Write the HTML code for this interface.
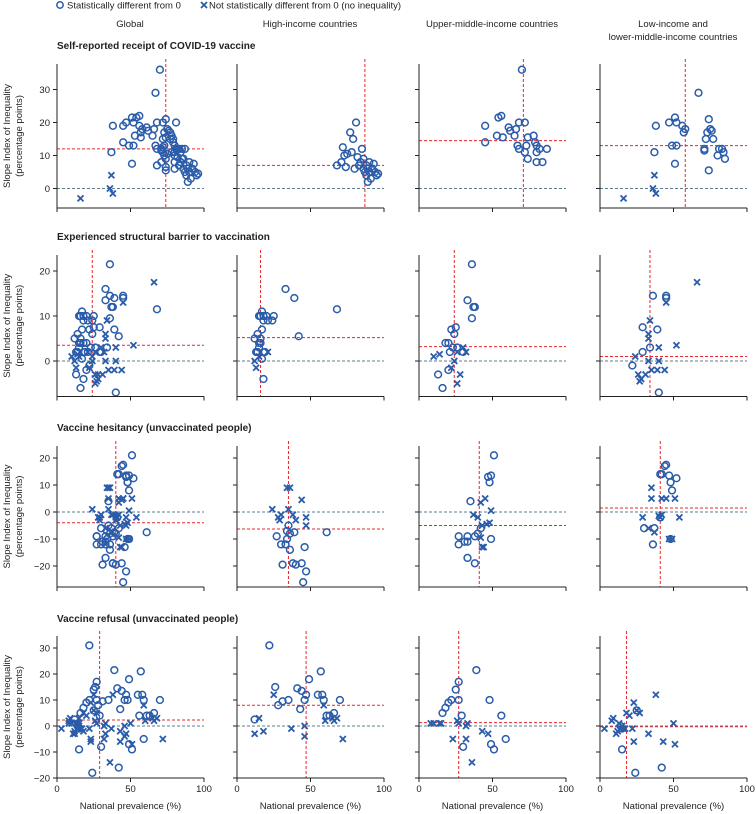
<!DOCTYPE html>
<html><head><meta charset="utf-8"><style>
html,body{margin:0;padding:0;background:#fff;}
svg{display:block;font-family:"Liberation Sans",sans-serif;}
</style></head><body>
<svg id="s" width="756" height="814" viewBox="0 0 756 814" xmlns="http://www.w3.org/2000/svg">
<g font-size="9.5" fill="#222">
<circle cx="60" cy="5" r="3.2" fill="none" stroke="#2a5caa" stroke-width="1.5"/>
<text x="67" y="8.5">Statistically different from 0</text>
<path d="M201 2 L207 8 M207 2 L201 8" stroke="#2a5caa" stroke-width="1.8"/>
<text x="209" y="8.5">Not statistically different from 0 (no inequality)</text>
<text x="130" y="27" text-anchor="middle">Global</text>
<text x="310" y="27" text-anchor="middle">High-income countries</text>
<text x="492" y="27" text-anchor="middle">Upper-middle-income countries</text>
<text x="673" y="27" text-anchor="middle">Low-income and</text>
<text x="673" y="40" text-anchor="middle">lower-middle-income countries</text>
</g>
</svg>
<script>
var NS="http://www.w3.org/2000/svg",S=document.getElementById("s");
function el(t,a,txt){var e=document.createElementNS(NS,t);for(var k in a)e.setAttribute(k,a[k]);if(txt!==undefined)e.textContent=txt;S.appendChild(e);return e;}
var cols=[57,237,419,600],W=147;
var rows=[
{title:"Self-reported receipt of COVID-19 vaccine",ty:49,top:64,bot:208,z:188.5,s:3.3,ticks:[0,10,20,30]},
{title:"Experienced structural barrier to vaccination",ty:240,top:255,bot:396.5,z:361,s:4.5,ticks:[0,10,20]},
{title:"Vaccine hesitancy (unvaccinated people)",ty:431,top:446,bot:587,z:512,s:2.7,ticks:[-20,-10,0,10,20]},
{title:"Vaccine refusal (unvaccinated people)",ty:622,top:636,bot:778,z:726,s:2.6,ticks:[-20,-10,0,10,20,30]}];
function P(str){return str.trim().split(/\s+/).map(function(p){var a=p.split(",");return [+a[0],+a[1],a[2]];});}
var D=[
[ // row1
{m:[87,7],p:P("68,7,o 71,8,o 72,12.5,o 73,10,o 74,6.5,o 75,10.5,o 77,17,o 78,11,o 79,15,o 80,6,o 81,20,o 82,9.5,o 83,7,o 84,8,o 85,12,o 86,6,o 87,5,o 88,4,o 88,7,o 89,2,o 90,5,o 90,8,o 91,3,o 92,6,o 93,7.5,o 94,5,o 95,4,o 96,4.5,o 86,9,o 89,6,o")},
{m:[71,14.5],p:P("45,19,o 45,14,o 54,21.5,o 56,22,o 53,16,o 57,15.5,o 61,18.5,o 62,17.5,o 66,18,o 65,16,o 68,20,o 72,20,o 67,13,o 68,12,o 73,13,o 74,15.5,o 78,16,o 79,14,o 80,13,o 82,12,o 80,11,o 72,11,o 74,9,o 80,8,o 84,8,o 87,12,o 70,36,o")},
{m:[58,13],p:P("16,-3,x 37,4,x 36,0,x 38,-1.5,x 38,19,o 37,11,o 47,20,o 51,21.5,o 52,20,o 56,19,o 58,18,o 57,17,o 49,13,o 52,13,o 51,7.5,o 67,29,o 74,21,o 73,17,o 75,18,o 76,17.5,o 72,15,o 77,15,o 71,12,o 71,11.5,o 81,12,o 83,12,o 84,11,o 80,10,o 85,9,o 74,5.5,o")},
[74,12]],
[ // row2
{m:[16,5.2],p:P("12,5,o 14,6,o 16,10,o 17,11,o 18,10,o 20,10,o 15,10,o 18,9,o 21,9,o 24,9,o 25,10,o 33,16,o 39,14,o 42,5.5,o 17,7,o 16,5,o 15,3,o 13,2,o 14,2,o 19,2,o 17,0.5,o 18,-4,o 68,11.5,o 15,4,o 16,4,o 13,-1.5,x 12,0,x 21,2,x 15,1,x")},
{m:[24,3.2],p:P("36,21.5,o 33,13.5,o 37,12,o 38,12,o 36,9.5,o 25,7.5,o 22,7,o 24,6,o 20,4,o 18,4,o 23,3,o 26,3,o 30,2,o 21,2,o 20,-2,o 16,-6,o 13,-3,o 10,1,x 14,1.5,x 24,0,x 26,2,x 30,3,x 32,2,x 26,-5,x 22,-1.5,x 28,-3,x")},
{m:[34,1],p:P("36,14.5,o 45,14.5,o 45,14,o 29,7.5,o 39,7,o 34,3,o 22,-1,o 40,-7,o 29,2,o 66,17.5,x 45,13,x 34,9,x 33,6,x 33,5,x 40,3,x 52,3.5,x 24,1,x 26,-3,x 27,-4.5,x 28,-4,x 31,-3,x 35,-2,x 39,-2,x 44,-2,x 33,0,x 40,0,x")},
[24,3.5]],
[ // row3
{m:[35,-6.3],p:P("27,-9,o 30,-12,o 33,-12,o 34,-10,o 36,-14,o 38,-19,o 40,-19.5,o 44,-19,o 46,-13,o 47,-22,o 45,-26,o 31,-19.5,o 36,-8,o 39,-7.5,o 61,-7.5,o 35,-5,o 34,-7,o 24,1,x 28,-2,x 29,-3,x 34,9,x 36,9,x 38,-1,x 40,-3,x 44,4.5,x 47,-2,x 47,-5,x 35,1,x 30,-1,x")},
{m:[41,-5],p:P("51,21,o 47,13,o 49,13.5,o 48,11,o 35,4,o 27,-9,o 27,-12,o 33,-9,o 31,-11,o 33,-11,o 38,-9,o 33,-17,o 38,-19,o 42,-6,o 49,-10,o 40,-8,o 42,3.5,x 45,5,x 49,0.5,x 37,-1,x 40,-2,x 43,-5,x 46,-4.5,x 48,-4,x 42,-9.5,x 43,-13,x 44,-13,x")},
{m:[41,1.5],p:P("44,17,o 45,17.5,o 41,14,o 42,14,o 47,13.5,o 52,12.5,o 48,11,o 49,8,o 30,-6,o 37,-6,o 36,-12,o 41,-2,o 48,-10,o 35,9,x 35,5,x 42,5,x 45,5,x 51,5,x 29,-2,x 40,-1.5,x 41,-2,x 54,-2,x 33,-6,x 37,-7.5,x 47,-10,x 49,-10,x 42,-1,x")},
[40,-4]],
[ // row4
{m:[47,8],p:P("12,2.5,o 22,31,o 26,15,o 28,8,o 31,9.5,o 35,10,o 41,14.5,o 44,13.5,o 46,10,o 47,12,o 49,18,o 55,12,o 57,21,o 58,12,o 59,10,o 61,4,o 63,4,o 66,5,o 70,10,o 43,6.5,o 12,-3,x 15,3,x 18,-2,x 25,12,x 37,-1,x 46,0,x 46,-4,x 59,8,x 60,2,x 65,3,x 66,2,x 68,3,x 72,-5,x")},
{m:[27,1.3],p:P("39,21.5,o 27,17,o 25,14,o 27,10,o 22,10,o 20,9,o 18,7,o 16,5,o 29,4,o 48,10,o 56,4,o 49,-7,o 51,-9,o 59,-5,o 30,-8,o 8,1,x 10,1,x 14,1,x 15,1,x 26,2,x 27,1,x 32,0,x 23,-5,x 32,-5,x 43,-2,x 47,-3,x 36,-14,x 33,1,x")},
{m:[18,-0.3],p:P("15,-9,o 24,-18,o 25,6,o 42,-16,o 14,0,o 15,-1,o 3,-1,x 8,2,x 9,3,x 11,-3,x 12,-2,x 13,1,x 14,-1,x 15,0,x 16,-1,x 17,-1,x 18,5,x 20,4,x 22,-1,x 23,9,x 25,6,x 27,5,x 33,-3,x 38,12,x 43,-6,x 50,1,x 51,-7,x 23,-6,x")},
[29,2.3]]];
var BL="#2a5caa",RED="#e8262a";
rows.forEach(function(r,ri){
 el("text",{x:57,y:r.ty,"font-size":"10","font-weight":"bold",fill:"#222"},r.title);
 var cy=(r.top+r.bot)/2;
 el("text",{x:0,y:0,"font-size":"9.5",fill:"#222","text-anchor":"middle",transform:"translate(10,"+cy+") rotate(-90)"},"Slope Index of Inequality");
 el("text",{x:0,y:0,"font-size":"9.5",fill:"#222","text-anchor":"middle",transform:"translate(22,"+cy+") rotate(-90)"},"(percentage points)");
 var d=D[ri];
 for(var c=0;c<4;c++){
  var x0=cols[c],X=function(v){return x0+v/100*W;},Y=function(v){return r.z-v*r.s;};
  var pts,med;
  if(c==0){pts=d[0].p.concat(d[1].p,d[2].p);med=d[3];}else{pts=d[c-1].p;med=d[c-1].m;}
  el("line",{x1:x0,y1:r.z,x2:x0+W,y2:r.z,stroke:"#5d7c8c","stroke-width":1,"stroke-dasharray":"3,2"});
  el("line",{x1:x0,y1:Y(med[1]),x2:x0+W,y2:Y(med[1]),stroke:RED,"stroke-width":1,"stroke-dasharray":"3,2"});
  el("line",{x1:X(med[0]),y1:r.top-5,x2:X(med[0]),y2:r.bot,stroke:RED,"stroke-width":1,"stroke-dasharray":"3,2"});
  pts.forEach(function(p){var px=X(p[0]),py=Y(p[1]);
   if(p[2]=="o")el("circle",{cx:px,cy:py,r:3.4,fill:"none",stroke:BL,"stroke-width":1.5});
   else el("path",{d:"M"+(px-3)+" "+(py-3)+"L"+(px+3)+" "+(py+3)+"M"+(px+3)+" "+(py-3)+"L"+(px-3)+" "+(py+3),stroke:BL,"stroke-width":1.8});});
  el("path",{d:"M"+x0+" "+r.top+"V"+r.bot+"H"+(x0+W),fill:"none",stroke:"#222","stroke-width":1});
  [0,50,100].forEach(function(t){el("line",{x1:X(t),y1:r.bot,x2:X(t),y2:r.bot+4,stroke:"#222","stroke-width":1});
   if(ri==3)el("text",{x:X(t),y:r.bot+14,"font-size":"9.5",fill:"#222","text-anchor":"middle"},t);});
  r.ticks.forEach(function(t){el("line",{x1:x0-4,y1:Y(t),x2:x0,y2:Y(t),stroke:"#222","stroke-width":1});
   if(c==0)el("text",{x:x0-7,y:Y(t)+3.5,"font-size":"9.5",fill:"#222","text-anchor":"end"},t==0?"0":(t<0?"\u2212"+(-t):t));});
  if(ri==3)el("text",{x:x0+W/2,y:r.bot+31,"font-size":"9.5",fill:"#222","text-anchor":"middle"},"National prevalence (%)");
 }
});
</script>
</body></html>
